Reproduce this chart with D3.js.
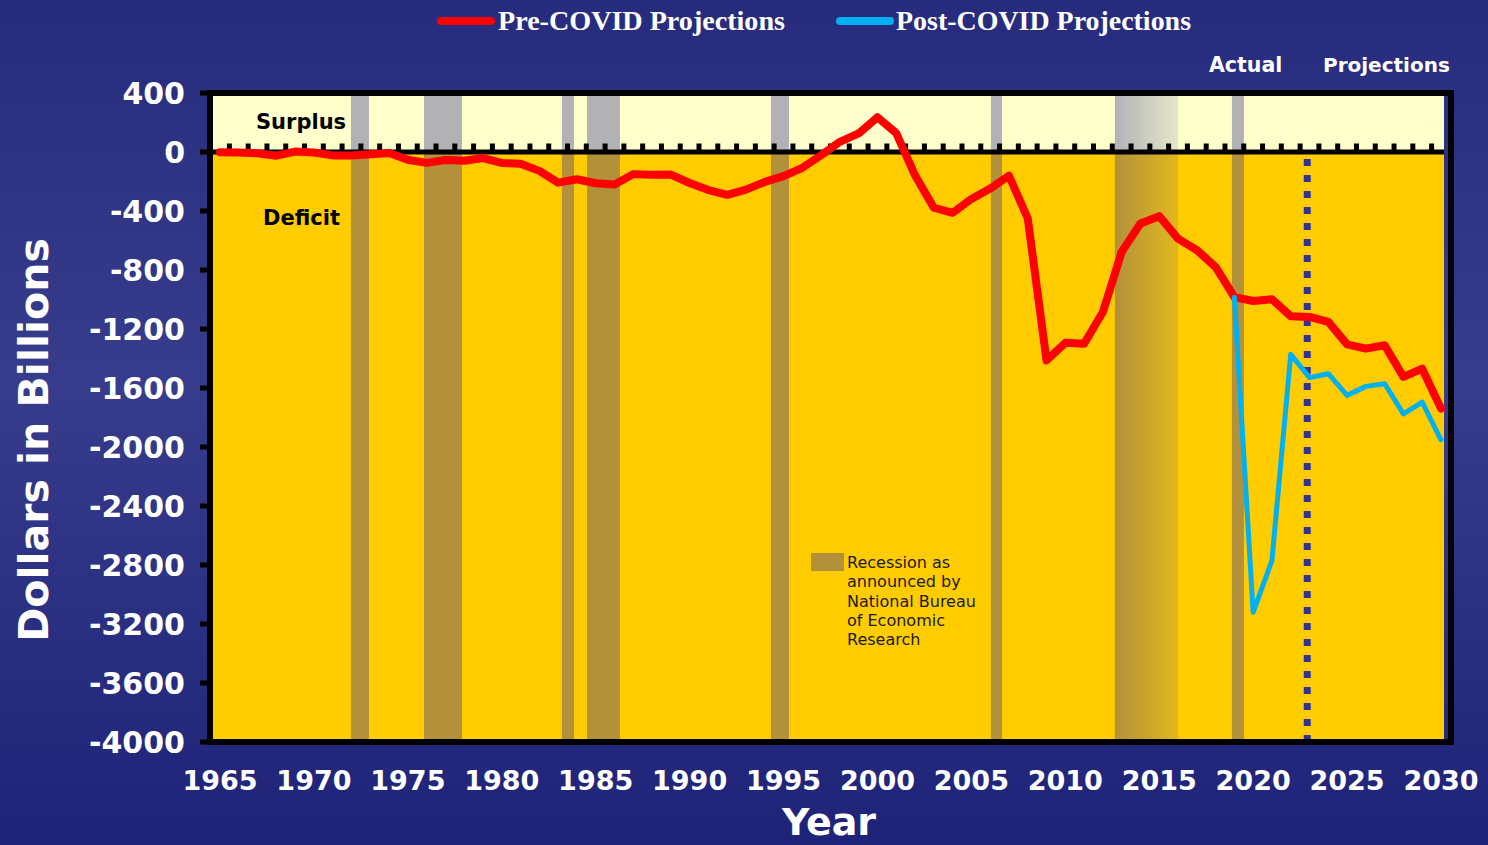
<!DOCTYPE html>
<html>
<head>
<meta charset="utf-8">
<script src="https://cdn.jsdelivr.net/npm/d3@7"></script>
<style>
  html, body { margin: 0; padding: 0; background: #2a2e80; }
  svg { display: block; }
</style>
</head>
<body>
<svg id="chart" width="1488" height="845"></svg>
<script>
// ---------------- DATA ----------------
const years = d3.range(1965, 2031);
const preCovid = [
  -1, -4, -9, -25, 3, -3, -23, -23, -15, -6,
  -53, -74, -54, -59, -41, -74, -79, -128, -208, -185,
  -212, -221, -150, -155, -153, -210, -258, -290, -255, -203,
  -164, -107, -22, 69, 126, 236, 128, -158, -378, -413,
  -318, -248, -161, -450, -1413, -1294, -1300, -1085, -677, -485,
  -435, -587, -665, -779, -984, -1010, -998, -1114, -1118, -1152,
  -1304, -1333, -1310, -1525, -1469, -1740
];
const postYears = d3.range(2019, 2031);
const postCovid = [-984, -3121, -2770, -1372, -1530, -1503, -1650, -1589, -1571, -1775, -1696, -1951];

// recession bands (in chart year units, as drawn)
const recessions = [
  [1971.97, 1972.93], [1975.86, 1977.88], [1983.2, 1983.85], [1984.54, 1986.29],
  [1994.33, 1995.29], [2006.04, 2006.63], [2018.87, 2019.51]
];
const fadedRecession = [2012.64, 2016.0];
const projectionStart = 2022.88;

const yTicks = [400, 0, -400, -800, -1200, -1600, -2000, -2400, -2800, -3200, -3600, -4000];
const xTicks = d3.range(1965, 2031, 5);
const legendItems = [
  { label: "Pre-COVID Projections", color: "#ff0000" },
  { label: "Post-COVID Projections", color: "#00b0f0" }
];
const recessionNote = ["Recession as", "announced by", "National Bureau", "of Economic", "Research"];

// ---------------- LAYOUT ----------------
const svg = d3.select("#chart");
const x = d3.scaleLinear().domain([1965, 2030]).range([220, 1441]);
const y = d3.scaleLinear().domain([-4000, 400]).range([742, 93]);
const plotL = 213, plotR = 1444, plotT = 96, plotB = 739;
const y0 = y(0);

const defs = svg.append("defs");
const bg = defs.append("linearGradient").attr("id", "bg").attr("x1", 0).attr("y1", 0).attr("x2", 0).attr("y2", 1);
bg.append("stop").attr("offset", "0").attr("stop-color", "#272b7d");
bg.append("stop").attr("offset", "0.45").attr("stop-color", "#383c8c");
bg.append("stop").attr("offset", "1").attr("stop-color", "#1f2378");

const gU = defs.append("linearGradient").attr("id", "fadeU").attr("x1", 0).attr("x2", 1).attr("y1", 0).attr("y2", 0);
gU.append("stop").attr("offset", "0").attr("stop-color", "#b2b2b8");
gU.append("stop").attr("offset", "1").attr("stop-color", "#e6e6c9");
const gL = defs.append("linearGradient").attr("id", "fadeL").attr("x1", 0).attr("x2", 1).attr("y1", 0).attr("y2", 0);
gL.append("stop").attr("offset", "0").attr("stop-color", "#b3913b");
gL.append("stop").attr("offset", "1").attr("stop-color", "#e0b81c");

svg.append("rect").attr("width", 1488).attr("height", 845).attr("fill", "url(#bg)");

// plot fills
svg.append("rect").attr("x", plotL).attr("y", plotT).attr("width", plotR - plotL).attr("height", y0 - plotT).attr("fill", "#ffffcc");
svg.append("rect").attr("x", plotL).attr("y", y0).attr("width", plotR - plotL).attr("height", plotB - y0).attr("fill", "#ffcc00");

// recession bands
const bands = svg.append("g");
recessions.forEach(r => {
  bands.append("rect").attr("x", x(r[0])).attr("y", plotT).attr("width", x(r[1]) - x(r[0])).attr("height", y0 - plotT).attr("fill", "#b2b2b6");
  bands.append("rect").attr("x", x(r[0])).attr("y", y0).attr("width", x(r[1]) - x(r[0])).attr("height", plotB - y0).attr("fill", "#b3913b");
});
bands.append("rect").attr("x", x(fadedRecession[0])).attr("y", plotT).attr("width", x(fadedRecession[1]) - x(fadedRecession[0])).attr("height", y0 - plotT).attr("fill", "url(#fadeU)");
bands.append("rect").attr("x", x(fadedRecession[0])).attr("y", y0).attr("width", x(fadedRecession[1]) - x(fadedRecession[0])).attr("height", plotB - y0).attr("fill", "url(#fadeL)");

// zero line + teeth
svg.append("line").attr("x1", plotL).attr("x2", plotR).attr("y1", y0).attr("y2", y0).attr("stroke", "#000").attr("stroke-width", 5);
svg.append("g").selectAll("rect").data(d3.range(1965, 2030)).join("rect")
  .attr("x", d => x(d + 0.5) - 2.5).attr("y", y0 - 8.5).attr("width", 5).attr("height", 7).attr("fill", "#000");

// dotted projection divider
svg.append("line").attr("x1", x(projectionStart)).attr("x2", x(projectionStart)).attr("y1", 159).attr("y2", 741)
  .attr("stroke", "#333399").attr("stroke-width", 7).attr("stroke-dasharray", "7,9");

// frame
svg.append("line").attr("x1", 207).attr("x2", 1454).attr("y1", 93).attr("y2", 93).attr("stroke", "#000").attr("stroke-width", 6);
svg.append("line").attr("x1", 207).attr("x2", 1454).attr("y1", 742).attr("y2", 742).attr("stroke", "#000").attr("stroke-width", 6);
svg.append("line").attr("x1", 210).attr("x2", 210).attr("y1", 90).attr("y2", 745).attr("stroke", "#000").attr("stroke-width", 6);
svg.append("line").attr("x1", 1451).attr("x2", 1451).attr("y1", 90).attr("y2", 745).attr("stroke", "#000").attr("stroke-width", 6);

// y ticks
svg.append("g").selectAll("line").data(yTicks).join("line")
  .attr("x1", 200).attr("x2", 208).attr("y1", d => y(d)).attr("y2", d => y(d)).attr("stroke", "#000").attr("stroke-width", 5);
svg.append("g").selectAll("text").data(yTicks).join("text")
  .attr("x", 185).attr("y", d => y(d)).attr("dy", "0.36em").attr("text-anchor", "end")
  .attr("font-family", "DejaVu Sans, Verdana, sans-serif").attr("font-weight", "bold").attr("font-size", 30)
  .attr("fill", "#fff").text(d => d);

// x tick labels
svg.append("g").selectAll("text").data(xTicks).join("text")
  .attr("x", d => x(d)).attr("y", 790).attr("text-anchor", "middle")
  .attr("font-family", "DejaVu Sans, Verdana, sans-serif").attr("font-weight", "bold").attr("font-size", 27)
  .attr("fill", "#fff").text(d => d);

// axis titles
svg.append("text").attr("x", 829).attr("y", 835).attr("text-anchor", "middle")
  .attr("font-family", "DejaVu Sans, Verdana, sans-serif").attr("font-weight", "bold").attr("font-size", 38)
  .attr("fill", "#fff").text("Year");
svg.append("text").attr("transform", "translate(48,440) rotate(-90)").attr("text-anchor", "middle")
  .attr("font-family", "DejaVu Sans, Verdana, sans-serif").attr("font-weight", "bold").attr("font-size", 41)
  .attr("fill", "#fff").text("Dollars in Billions");

// in-plot labels
const bold = (s, size) => s.attr("font-family", "DejaVu Sans, Verdana, sans-serif").attr("font-weight", "bold").attr("font-size", size);
svg.append("text").attr("x", 256).attr("y", 129).call(bold, 21).attr("fill", "#000").text("Surplus");
svg.append("text").attr("x", 263).attr("y", 225).call(bold, 21).attr("fill", "#000").text("Deficit");
svg.append("text").attr("x", 1209).attr("y", 72).call(bold, 20.5).attr("fill", "#fff").text("Actual");
svg.append("text").attr("x", 1323).attr("y", 72).call(bold, 20).attr("fill", "#fff").text("Projections");

// recession note
svg.append("rect").attr("x", 811).attr("y", 553).attr("width", 33).attr("height", 18).attr("fill", "#b3913b");
svg.append("g").selectAll("text").data(recessionNote).join("text")
  .attr("x", 847).attr("y", (d, i) => 568 + i * 19.3)
  .attr("font-family", "DejaVu Sans, Verdana, sans-serif").attr("font-size", 16).attr("fill", "#1a1a1a").text(d => d);

// lines
const line = d3.line().x(d => x(d[0])).y(d => y(d[1]));
svg.append("path").datum(years.map((yr, i) => [yr, preCovid[i]])).attr("d", line)
  .attr("fill", "none").attr("stroke", "#ff0000").attr("stroke-width", 8).attr("stroke-linejoin", "round").attr("stroke-linecap", "round");
svg.append("path").datum(postYears.map((yr, i) => [yr, postCovid[i]])).attr("d", line)
  .attr("fill", "none").attr("stroke", "#00b0f0").attr("stroke-width", 5).attr("stroke-linejoin", "round").attr("stroke-linecap", "round");

// legend
const legX = [437, 836];
const legTextX = [498, 896];
const legW = [287, 295];
legendItems.forEach((it, i) => {
  svg.append("line").attr("x1", legX[i] + 4).attr("x2", legX[i] + 54).attr("y1", 21).attr("y2", 21)
    .attr("stroke", it.color).attr("stroke-width", 8).attr("stroke-linecap", "round");
  svg.append("text").attr("x", legTextX[i]).attr("y", 30)
    .attr("font-family", "Liberation Serif, Times New Roman, serif").attr("font-weight", "bold").attr("font-size", 28)
    .attr("textLength", legW[i]).attr("lengthAdjust", "spacingAndGlyphs")
    .attr("fill", "#fff").text(it.label);
});
</script>
</body>
</html>
